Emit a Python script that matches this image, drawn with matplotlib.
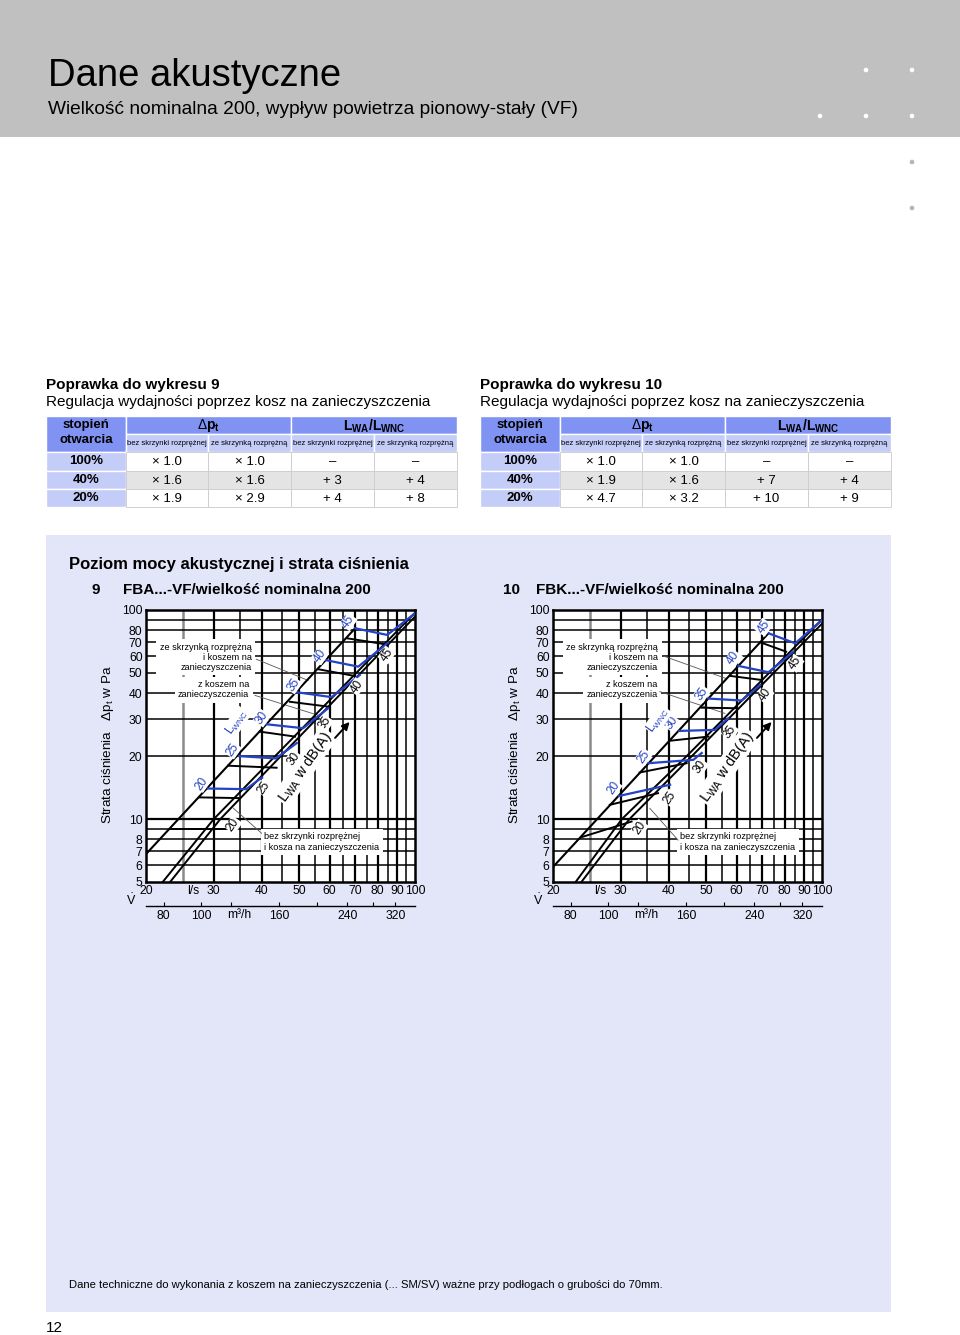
import matplotlib
matplotlib.use("Agg")
import matplotlib.pyplot as plt
from matplotlib.patches import Rectangle, Circle
from matplotlib import font_manager
from matplotlib.transforms import blended_transform_factory
from matplotlib.ticker import NullLocator

plt.rcParams['font.family'] = ['Liberation Sans', 'DejaVu Sans']
plt.rcParams['mathtext.fontset'] = 'custom'
plt.rcParams['mathtext.rm'] = 'Liberation Sans'
plt.rcParams['mathtext.it'] = 'Liberation Sans:italic'
plt.rcParams['mathtext.bf'] = 'Liberation Sans:bold'

installed = {f.name for f in font_manager.fontManager.ttflist}
if 'Liberation Sans Narrow' in installed:
    NARROW, SUB_SIZE = 'Liberation Sans Narrow', 6.6
else:
    NARROW, SUB_SIZE = 'Liberation Sans', 5.5

# ---- correction tables ----
open_levels = ['100%', '40%', '20%']
t9_dp_bez = [1.0, 1.6, 1.9]
t9_dp_ze = [1.0, 1.6, 2.9]
t9_L_bez = [None, 3, 4]
t9_L_ze = [None, 4, 8]
t10_dp_bez = [1.0, 1.9, 4.7]
t10_dp_ze = [1.0, 1.6, 3.2]
t10_L_bez = [None, 7, 10]
t10_L_ze = [None, 4, 9]

# ---- chart axes ----
ls_ticks = [20, 30, 40, 50, 60, 70, 80, 90, 100]
pa_ticks = [5, 6, 7, 8, 10, 20, 30, 40, 50, 60, 70, 80, 100]
pa_grid = [6, 7, 8, 9, 10, 20, 30, 40, 50, 60, 70, 80, 90]
m3h_ticks = [80, 100, 120, 160, 200, 240, 280, 320]
m3h_labels = ['80', '100', '', '160', '', '240', '', '320']
wnc_levels = [20, 25, 30, 35, 40, 45]
wa_levels = [20, 25, 30, 35, 40, 45]

# chart 9 (FBA)
c9_upper_v = [20, 70]
c9_upper_p = [6.8, 82]
c9_lowA_v = [22.1, 30.0, 43.3, 100]
c9_lowA_p = [5, 10, 20, 97]
c9_lowB_v = [23.1, 31.2, 44.8, 100]
c9_lowB_p = [5, 10, 20, 93]
c9_wnc_v = [[29.0, 36.4, 40.0], [34.9, 43.5, 49.3], [41.2, 51.2, 59.5],
            [49.4, 60.7, 71.9], [58.3, 71.2, 85.2], [69.8, 84.7, 100]]
c9_wnc_p = [[14.0, 13.9, 15.8], [20.0, 19.5, 23.1], [28.4, 27.2, 33.9],
            [40.4, 38.3, 48.9], [57.7, 53.6, 69.8], [81.8, 76.0, 96.4]]
c9_wa_v = [[23.1, 32.1], [27.5, 34.7], [32.7, 43.7], [39.5, 48.8],
           [47.3, 59.5], [56.0, 69.1], [66.7, 83.5]]
c9_wa_p = [[8.95, 8.95], [12.7, 12.6], [18.0, 17.6], [26.2, 24.8],
           [36.4, 34.5], [52.1, 48.5], [73.2, 68.6]]
c9_wa_lab_v = [33.7, 40.5, 48.3, 58.3, 70.5, 84.4]
c9_wa_lab_p = [9.38, 14.1, 19.5, 28.7, 43.0, 60.9]
c9_wnc_lab_v = [27.9, 33.6, 40.0, 48.3, 56.6, 67.1]
c9_wnc_lab_p = [14.8, 21.4, 30.4, 43.8, 60.3, 87.9]

# chart 10 (FBK)
c10_upper_v = [20, 72.6]
c10_upper_p = [5.9, 77.4]
c10_lowA_v = [22.9, 30.2, 44.5, 100]
c10_lowA_p = [5, 10, 20, 90]
c10_lowB_v = [23.7, 31.6, 45.9, 100]
c10_lowB_p = [5, 10, 20, 86]
c10_wnc_v = [[29.7, 40.3], [35.4, 46.3, 48.7], [42.6, 52.7, 57.1],
             [50.7, 61.9, 69.1], [60.7, 72.6, 84.3], [72.6, 85.2, 100]]
c10_wnc_p = [[12.9, 14.6], [18.5, 19.2, 20.7], [26.4, 26.7, 30.4],
             [37.7, 36.9, 43.8], [54.0, 50.4, 63.2], [77.4, 69.3, 89.6]]
c10_wa_v = [[23.7, 32.0], [28.1, 37.5], [33.6, 44.5], [40.3, 50.7],
            [48.7, 59.8], [57.7, 69.5], [69.5, 80.7]]
c10_wa_p = [[8.19, 9.73], [11.7, 13.3], [16.7, 18.5], [23.7, 24.8],
            [34.1, 33.9], [48.4, 46.3], [69.8, 63.2]]
c10_wa_lab_v = [33.6, 40.3, 48.2, 57.7, 71.2, 85.2]
c10_wa_lab_p = [9.05, 12.6, 17.8, 26.2, 39.2, 55.6]
c10_wnc_lab_v = [28.7, 34.4, 40.7, 48.7, 58.9, 70.5]
c10_wnc_lab_p = [14.1, 19.9, 28.7, 39.9, 58.8, 82.7]

BLUE = '#2342c4'
HEAD = '#8193f2'
LIGHT = '#c4ccf8'
PANEL = '#e3e6f9'


def draw_table(bg, x0, num, dp_bez, dp_ze, L_bez, L_ze):
    bg.text(x0, 385, 'Poprawka do wykresu %d' % num, fontsize=11, fontweight='bold', va='center')
    bg.text(x0, 402, 'Regulacja wydajności poprzez kosz na zanieczyszczenia', fontsize=11, va='center')
    cols = [x0, x0 + 80, x0 + 162, x0 + 245, x0 + 328, x0 + 411]
    rows = [452, 471, 489, 507]
    # header
    bg.add_patch(Rectangle((cols[0], 416), 80, 36, fc=HEAD, ec='white', lw=1))
    bg.add_patch(Rectangle((cols[1], 416), cols[3] - cols[1], 18, fc=HEAD, ec='white', lw=1))
    bg.add_patch(Rectangle((cols[3], 416), cols[5] - cols[3], 18, fc=HEAD, ec='white', lw=1))
    bg.text(cols[0] + 40, 425, 'stopień', fontsize=9.5, fontweight='bold', ha='center', va='center')
    bg.text(cols[0] + 40, 440, 'otwarcia', fontsize=9.5, fontweight='bold', ha='center', va='center')
    bg.text((cols[1] + cols[3]) / 2, 426, r'$\Delta$p$_{\mathbf{t}}$', fontsize=10,
            fontweight='bold', ha='center', va='center')
    bg.text((cols[3] + cols[5]) / 2, 426, r'L$_{\mathbf{WA}}$/L$_{\mathbf{WNC}}$', fontsize=10,
            fontweight='bold', ha='center', va='center')
    subs = ['bez skrzynki rozprężnej', 'ze skrzynką rozprężną'] * 2
    for i, s in enumerate(subs):
        bg.add_patch(Rectangle((cols[i + 1], 434), cols[i + 2] - cols[i + 1], 18, fc=LIGHT, ec='white', lw=1))
        bg.text((cols[i + 1] + cols[i + 2]) / 2, 443.5, s, fontsize=SUB_SIZE, family=[NARROW, 'DejaVu Sans'],
                ha='center', va='center')
    # body
    for r, lab in enumerate(open_levels):
        y0, y1 = rows[r], rows[r + 1]
        bg.add_patch(Rectangle((cols[0], y0), 80, y1 - y0, fc=LIGHT, ec='white', lw=1))
        bg.text(cols[0] + 40, (y0 + y1) / 2, lab, fontsize=9.5, fontweight='bold', ha='center', va='center')
        vals = ['× %.1f' % dp_bez[r], '× %.1f' % dp_ze[r],
                '–' if L_bez[r] is None else '+ %d' % L_bez[r],
                '–' if L_ze[r] is None else '+ %d' % L_ze[r]]
        fc = '#e4e4e4' if r == 1 else 'white'
        for c, v in enumerate(vals):
            bg.add_patch(Rectangle((cols[c + 1], y0), cols[c + 2] - cols[c + 1], y1 - y0,
                                   fc=fc, ec='#cfcfcf', lw=0.7))
            bg.text((cols[c + 1] + cols[c + 2]) / 2, (y0 + y1) / 2 + 0.5, v, fontsize=9.5,
                    ha='center', va='center')


def draw_chart(fig, bg, left, d):
    ax = fig.add_axes([left / 960, 1 - 882 / 1335, 269 / 960, 272 / 1335])
    ax.set_xscale('log')
    ax.set_yscale('log')
    ax.set_xlim(20, 100)
    ax.set_ylim(5, 100)
    ax.set_facecolor('white')
    for s in ax.spines.values():
        s.set_linewidth(1.8)
    ax.xaxis.set_minor_locator(NullLocator())
    ax.yaxis.set_minor_locator(NullLocator())
    ax.set_xticks(ls_ticks + [26.5])
    ax.set_xticklabels([str(v) for v in ls_ticks] + ['l/s'])
    ax.set_yticks(pa_ticks)
    ax.set_yticklabels([str(v) for v in pa_ticks])
    ax.tick_params(length=0, labelsize=8.7, pad=2.5)

    # grid
    for v in range(25, 100, 5):
        if v == 25:
            ax.axvline(v, color='#8a8a8a', lw=1.8, zorder=1)
        else:
            ax.axvline(v, color='black', lw=1.6 if v % 10 == 0 else 1.1, zorder=1)
    for p in pa_grid:
        ax.axhline(p, color='black', lw=1.6 if p == 10 else 1.1, zorder=1)

    # notes with white boxes
    box = dict(fc='white', ec='none', pad=2.5)
    ax.text(d['ze'][0], d['ze'][1], 'ze skrzynką rozprężną\ni koszem na\nzanieczyszczenia',
            transform=ax.transAxes, fontsize=6.6, ha='right', va='center', linespacing=1.15,
            bbox=box, zorder=2)
    ax.text(d['zk'][0], d['zk'][1], 'z koszem na\nzanieczyszczenia',
            transform=ax.transAxes, fontsize=6.6, ha='right', va='center', linespacing=1.15,
            bbox=box, zorder=2)
    ax.text(d['bez'][0], d['bez'][1], 'bez skrzynki rozprężnej\ni kosza na zanieczyszczenia',
            transform=ax.transAxes, fontsize=6.6, ha='left', va='center', linespacing=1.15,
            bbox=box, zorder=2)
    for seg in d['leaders']:
        ax.plot(seg[0], seg[1], transform=ax.transAxes, color='#555555', lw=0.6, zorder=2.5)

    # characteristic lines
    ax.plot(d['up_v'], d['up_p'], color='black', lw=1.5, zorder=3)
    ax.plot(d['la_v'], d['la_p'], color='black', lw=1.4, zorder=3)
    ax.plot(d['lb_v'], d['lb_p'], color='black', lw=1.4, zorder=3)
    for vv, pp in zip(d['wa_v'], d['wa_p']):
        ax.plot(vv, pp, color='black', lw=1.4, zorder=3)
    for vv, pp in zip(d['wnc_v'], d['wnc_p']):
        ax.plot(vv, pp, color=BLUE, lw=1.6, zorder=3.5)

    lab_box = dict(fc='white', ec='none', pad=0.3)
    for v, p, lev in zip(d['wa_lab_v'], d['wa_lab_p'], wa_levels):
        ax.text(v, p, str(lev), fontsize=8.5, rotation=55, ha='center', va='center',
                bbox=lab_box, zorder=4)
    for v, p, lev in zip(d['wnc_lab_v'], d['wnc_lab_p'], wnc_levels):
        ax.text(v, p, str(lev), fontsize=8.5, rotation=55, ha='center', va='center',
                color=BLUE, bbox=lab_box, zorder=4)
    ax.text(d['lwnc'][0], d['lwnc'][1], r'L$_{\mathrm{WNC}}$', fontsize=8.5, rotation=55,
            color=BLUE, ha='center', va='center', bbox=lab_box, zorder=4)
    ax.text(d['lwa'][0], d['lwa'][1], r'L$_{\mathrm{WA}}$ w dB(A)', fontsize=10.5, rotation=55,
            ha='center', va='center', bbox=dict(fc='white', ec='none', pad=1), zorder=4)
    ax.annotate('', xy=d['arrow'][1], xytext=d['arrow'][0],
                arrowprops=dict(arrowstyle='-|>', color='black', lw=1.4, mutation_scale=11), zorder=4)

    ax.text(-0.14, 0.505, r'Strata ciśnienia   $\Delta$p$_{\mathrm{t}}$ w Pa', transform=ax.transAxes,
            rotation=90, fontsize=9.7, ha='center', va='center')

    # m3/h scale
    axm = fig.add_axes([left / 960, 1 - 906 / 1335, 269 / 960, 0.0001])
    axm.set_xscale('log')
    axm.set_xlim(20 * 3.6, 100 * 3.6)
    axm.set_yticks([])
    axm.patch.set_alpha(0)
    for k in ['top', 'left', 'right']:
        axm.spines[k].set_visible(False)
    axm.spines['bottom'].set_linewidth(1.0)
    axm.xaxis.set_minor_locator(NullLocator())
    axm.set_xticks(m3h_ticks)
    axm.set_xticklabels(m3h_labels)
    axm.tick_params(direction='in', length=3, width=0.8, labelsize=8.7, pad=3)
    axm.text(126, 915, 'm³/h', transform=blended_transform_factory(axm.transData, bg.transData),
             fontsize=8.7, ha='center', va='center')
    bg.text(left - 15, 900, r'$\dot{\mathrm{V}}$', fontsize=9, ha='center', va='center')


fig = plt.figure(figsize=(9.6, 13.35), dpi=100)
bg = fig.add_axes([0, 0, 1, 1])
bg.set_xlim(0, 960)
bg.set_ylim(1335, 0)
bg.axis('off')

# header band
bg.add_patch(Rectangle((0, 0), 960, 137, fc='#c0c0c0', lw=0))
bg.text(48, 76, 'Dane akustyczne', fontsize=27.5, va='center')
bg.text(48, 110, 'Wielkość nominalna 200, wypływ powietrza pionowy-stały (VF)', fontsize=13.8, va='center')
for x, y in [(866, 70), (912, 70), (820, 116), (866, 116), (912, 116)]:
    bg.add_patch(Circle((x, y), 2.3, fc='white', lw=0))
for x, y in [(912, 162), (912, 208)]:
    bg.add_patch(Circle((x, y), 2.3, fc='#b5b5b5', lw=0))

draw_table(bg, 46, 9, t9_dp_bez, t9_dp_ze, t9_L_bez, t9_L_ze)
draw_table(bg, 480, 10, t10_dp_bez, t10_dp_ze, t10_L_bez, t10_L_ze)

# chart panel
bg.add_patch(Rectangle((46, 535), 845, 777, fc=PANEL, lw=0))
bg.text(69, 564, 'Poziom mocy akustycznej i strata ciśnienia', fontsize=12, fontweight='bold', va='center')
bg.text(91, 590, '9', fontsize=11, fontweight='bold', va='center')
bg.text(123, 590, 'FBA...-VF/wielkość nominalna 200', fontsize=11, fontweight='bold', va='center')
bg.text(503, 590, '10', fontsize=11, fontweight='bold', va='center')
bg.text(536, 590, 'FBK...-VF/wielkość nominalna 200', fontsize=11, fontweight='bold', va='center')
bg.text(69, 1285, 'Dane techniczne do wykonania z koszem na zanieczyszczenia (... SM/SV) ważne przy '
        'podłogach o grubości do 70mm.', fontsize=8.1, va='center')
bg.text(46, 1328, '12', fontsize=11, va='center')

chart9 = dict(up_v=c9_upper_v, up_p=c9_upper_p, la_v=c9_lowA_v, la_p=c9_lowA_p,
              lb_v=c9_lowB_v, lb_p=c9_lowB_p, wnc_v=c9_wnc_v, wnc_p=c9_wnc_p,
              wa_v=c9_wa_v, wa_p=c9_wa_p, wa_lab_v=c9_wa_lab_v, wa_lab_p=c9_wa_lab_p,
              wnc_lab_v=c9_wnc_lab_v, wnc_lab_p=c9_wnc_lab_p,
              lwnc=(34.4, 29.2), lwa=(51.8, 17.8), arrow=((61.3, 23.9), (68.4, 29.8)),
              ze=(0.393, 0.827), zk=(0.384, 0.706), bez=(0.439, 0.147),
              leaders=[([0.41, 0.603], [0.819, 0.741]), ([0.405, 0.64], [0.686, 0.613]),
                       ([0.43, 0.325], [0.179, 0.271])])
chart10 = dict(up_v=c10_upper_v, up_p=c10_upper_p, la_v=c10_lowA_v, la_p=c10_lowA_p,
               lb_v=c10_lowB_v, lb_p=c10_lowB_p, wnc_v=c10_wnc_v, wnc_p=c10_wnc_p,
               wa_v=c10_wa_v, wa_p=c10_wa_p, wa_lab_v=c10_wa_lab_v, wa_lab_p=c10_wa_lab_p,
               wnc_lab_v=c10_wnc_lab_v, wnc_lab_p=c10_wnc_lab_p,
               lwnc=(37.5, 29.8), lwa=(56.6, 17.8), arrow=((67.0, 23.9), (74.8, 29.8)),
               ze=(0.391, 0.827), zk=(0.3885, 0.706), bez=(0.473, 0.147),
               leaders=[([0.41, 0.641], [0.831, 0.749]), ([0.397, 0.639], [0.70, 0.62]),
                        ([0.465, 0.36], [0.154, 0.271])])

draw_chart(fig, bg, 146, chart9)
draw_chart(fig, bg, 553, chart10)

fig.savefig('out.png', dpi=100, facecolor='white')
